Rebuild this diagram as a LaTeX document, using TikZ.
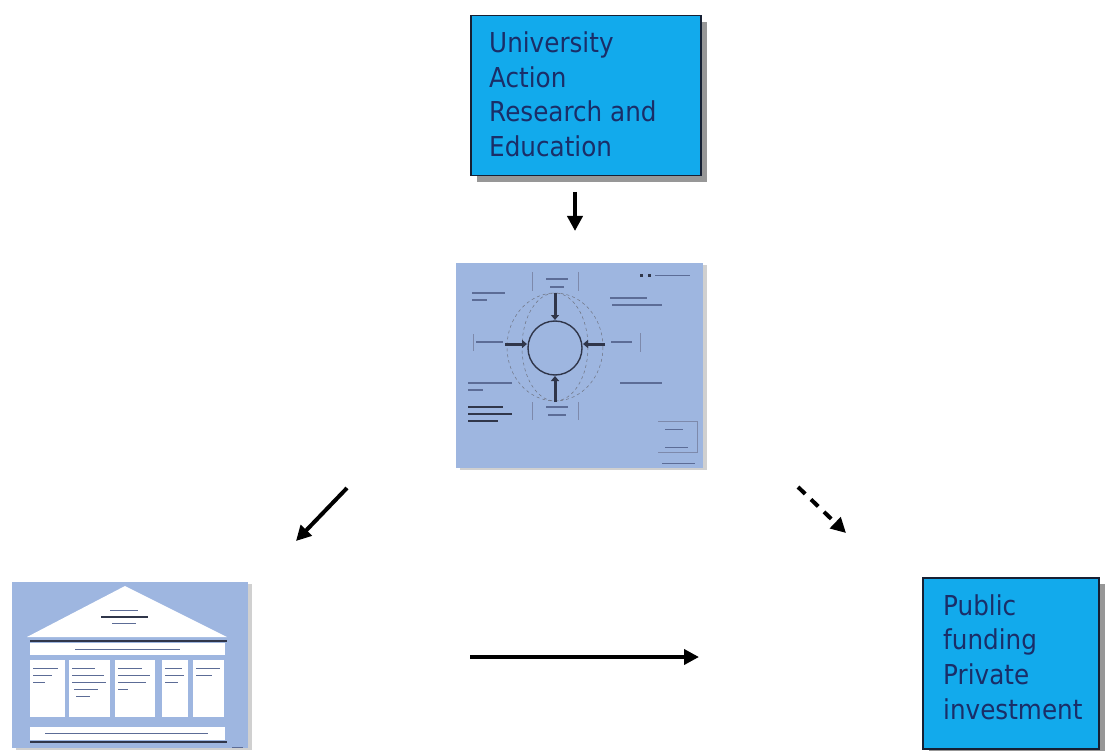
\documentclass[tikz,border=0pt]{standalone}
\usepackage{fontspec}
\newfontfamily\boxfont[FakeStretch=0.9]{DejaVu Sans}
\usetikzlibrary{arrows.meta,shadows}
\definecolor{boxblue}{RGB}{18,170,236}
\definecolor{boxtextc}{RGB}{26,46,104}
\definecolor{boxborder}{RGB}{22,32,52}
\definecolor{thumbblue}{RGB}{158,182,224}
\definecolor{blurtext}{RGB}{92,108,150}
\definecolor{darkmark}{RGB}{48,54,74}
\tikzset{
  bluebox/.style={draw=boxborder, line width=1.5pt, fill=boxblue, inner sep=0pt,
    drop shadow={shadow xshift=6pt, shadow yshift=-6pt, fill=black!45, opacity=0.9}},
  boxtext/.style={anchor=base west, inner sep=0pt, text=boxtextc,
    font=\boxfont\fontsize{27.4}{35}\selectfont},
  thumb/.style={fill=thumbblue, draw=none, inner sep=0pt,
    drop shadow={shadow xshift=4pt, shadow yshift=-2pt, fill=black!30, opacity=0.6}},
  blur/.style={line width=1.3pt, draw=blurtext},
  blurbold/.style={line width=1.8pt, draw=darkmark},
  tickline/.style={line width=0.5pt, draw=blurtext!80},
  thickmark/.style={line width=3pt, draw=darkmark, -{Triangle[length=5pt,width=8pt]}},
  bigarrow/.style={line width=4pt, draw=black, -{Triangle[length=15pt,width=15pt]}},
  dashedarrow/.style={bigarrow, dash pattern=on 10pt off 8pt},
  whitepanel/.style={fill=white, draw=none},
}
\begin{document}
\begin{tikzpicture}[x=1pt,y=-1pt]
\useasboundingbox (0,0) rectangle (1105,751);
\fill[white] (0,0) rectangle (1105,751);

% ---------- top box ----------
\node[bluebox, minimum width=230pt, minimum height=160pt, anchor=north west] (uni) at (470,15) {};
\node[boxtext] (uni1) at (489,53) {University};
\node[boxtext] (uni2) at (489,88) {Action};
\node[boxtext] (uni3) at (489,122) {Research and};
\node[boxtext] (uni4) at (489,157) {Education};

% ---------- bottom right box ----------
\node[bluebox, minimum width=176pt, minimum height=171pt, anchor=north west] (fund) at (922,577) {};
\node[boxtext] (fund1) at (943,615) {Public};
\node[boxtext] (fund2) at (943,649) {funding};
\node[boxtext] (fund3) at (943,684) {Private};
\node[boxtext] (fund4) at (943,719) {investment};

% ---------- middle thumbnail ----------
\node[thumb, minimum width=247pt, minimum height=205pt, anchor=north west] (mid) at (456,263) {};
\draw[dashed, line width=0.5pt, draw=darkmark!70] (555,347) ellipse [x radius=48, y radius=54];
\draw[dashed, line width=0.5pt, draw=darkmark!70] (555,347) ellipse [x radius=33, y radius=54];
\draw[line width=1.4pt, draw=darkmark] (555,348) circle [radius=27];
\draw[thickmark] (555,293) -- (555,320);
\draw[thickmark] (555,402) -- (555,376);
\draw[thickmark] (505,344) -- (527,344);
\draw[thickmark] (605,344) -- (583,344);
% labels (blurred text)
\draw[blur] (546,279) -- (568,279);
\draw[blur] (550,287) -- (564,287);
\draw[tickline] (532,272) -- (532,291);
\draw[tickline] (578,272) -- (578,291);
\draw[blur] (546,407) -- (568,407);
\draw[blur] (548,415) -- (566,415);
\draw[tickline] (532,402) -- (532,420);
\draw[tickline] (578,402) -- (578,420);
\draw[blur] (476,342) -- (503,342);
\draw[tickline] (473,334) -- (473,351);
\draw[blur] (611,342) -- (632,342);
\draw[tickline] (640,333) -- (640,352);
\draw[blur] (472,293) -- (505,293);
\draw[blur] (472,300) -- (487,300);
\draw[blur] (610,298) -- (647,298);
\draw[blur] (612,305) -- (662,305);
\fill[darkmark] (640,274) rectangle (643,277);
\fill[darkmark] (648,274) rectangle (651,277);
\draw[blur, line width=0.8pt] (655,275) -- (690,275);
\draw[blur] (468,383) -- (512,383);
\draw[blur] (468,390) -- (483,390);
\draw[blurbold] (468,407) -- (503,407);
\draw[blurbold] (468,414) -- (512,414);
\draw[blurbold] (468,421) -- (498,421);
\draw[blur] (620,383) -- (662,383);
\draw[tickline] (658,421) -- (697,421) -- (697,452) -- (658,452);
\draw[blur, line width=0.8pt] (665,429) -- (683,429);
\draw[blur, line width=0.8pt] (665,447) -- (688,447);
\draw[blur, line width=0.8pt] (662,463) -- (695,463);

% ---------- bottom left thumbnail (house) ----------
\node[thumb, minimum width=236pt, minimum height=166pt, anchor=north west] (house) at (12,582) {};
\fill[white] (27,637) -- (125,586) -- (227,637) -- cycle;
\draw[blur, line width=0.8pt] (110,610) -- (138,610);
\draw[blurbold] (101,617) -- (148,617);
\draw[blur, line width=0.8pt] (112,623) -- (136,623);
\draw[line width=1.5pt, draw=darkmark] (30,641) -- (227,641);
\fill[whitepanel] (30,643) rectangle (225,655);
\draw[blur, line width=0.8pt] (75,649) -- (180,649);
\fill[whitepanel] (30,660) rectangle (65,717);
\fill[whitepanel] (69,660) rectangle (110,717);
\fill[whitepanel] (115,660) rectangle (155,717);
\fill[whitepanel] (162,660) rectangle (188,717);
\fill[whitepanel] (193,660) rectangle (224,717);
\draw[blur, line width=0.8pt] (33,668) -- (58,668);
\draw[blur, line width=0.8pt] (33,675) -- (52,675);
\draw[blur, line width=0.8pt] (33,682) -- (45,682);
\draw[blur, line width=0.8pt] (72,668) -- (95,668);
\draw[blur, line width=0.8pt] (72,675) -- (104,675);
\draw[blur, line width=0.8pt] (72,682) -- (106,682);
\draw[blur, line width=0.8pt] (74,689) -- (98,689);
\draw[blur, line width=0.8pt] (76,696) -- (90,696);
\draw[blur, line width=0.8pt] (118,668) -- (142,668);
\draw[blur, line width=0.8pt] (118,675) -- (150,675);
\draw[blur, line width=0.8pt] (118,682) -- (146,682);
\draw[blur, line width=0.8pt] (118,689) -- (128,689);
\draw[blur, line width=0.8pt] (165,668) -- (182,668);
\draw[blur, line width=0.8pt] (165,675) -- (184,675);
\draw[blur, line width=0.8pt] (165,682) -- (178,682);
\draw[blur, line width=0.8pt] (196,668) -- (220,668);
\draw[blur, line width=0.8pt] (196,675) -- (212,675);
\fill[whitepanel] (30,727) rectangle (225,740);
\draw[blur, line width=0.8pt] (45,733) -- (208,733);
\draw[line width=1.5pt, draw=darkmark] (30,742) -- (227,742);
\draw[blur, line width=0.8pt] (232,747) -- (243,747);

% ---------- arrows ----------
\coordinate (d1) at (575,192);
\coordinate (d2) at (575,231);
\coordinate (sw1) at (347,488);
\coordinate (sw2) at (296,541);
\coordinate (se1) at (798,487);
\coordinate (se2) at (846,533);
\coordinate (h1) at (470,657);
\coordinate (h2) at (699,657);
\draw[bigarrow] (d1) -- (d2);
\draw[bigarrow] (sw1) -- (sw2);
\draw[dashedarrow] (se1) -- (se2);
\draw[bigarrow] (h1) -- (h2);
\end{tikzpicture}
\end{document}
